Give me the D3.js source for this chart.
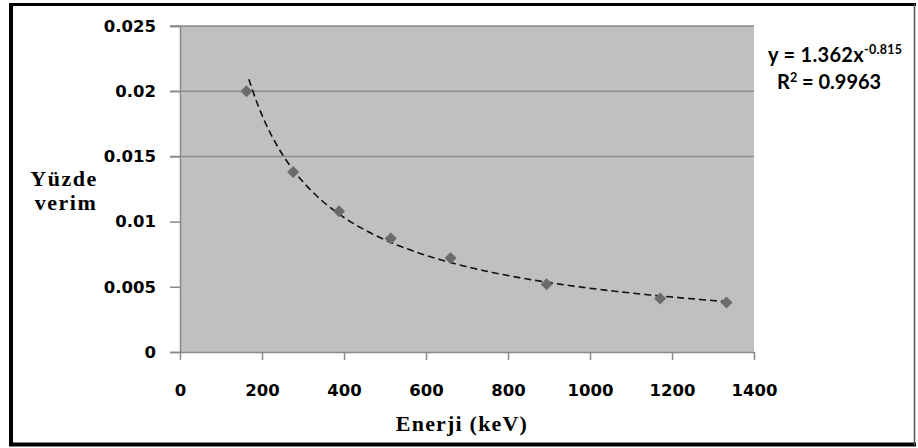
<!DOCTYPE html>
<html>
<head>
<meta charset="utf-8">
<script src="https://cdn.jsdelivr.net/npm/d3@7"></script>
<style>
  body { margin: 0; background: #fff; }
  svg { display: block; }
</style>
</head>
<body>
<script>
// values
var energy = [162, 276, 388, 514, 660, 894, 1171, 1333];
var efficiency = [0.0200, 0.0138, 0.0108, 0.0087, 0.0072, 0.0052, 0.0041, 0.0038];
var xTicks = [0, 200, 400, 600, 800, 1000, 1200, 1400];
var yTicks = [0, 0.005, 0.01, 0.015, 0.02, 0.025];
var gridTicks = [0.015, 0.02, 0.025];
// power trendline shown on the chart: y = 1.362 x^-0.815
var fitCoef = [1.362, -0.815];
var fitR2 = "0.9963";

var width = 918, height = 448;
var margin = {top: 26, right: 164, bottom: 96, left: 180};

var svg = d3.select("body").append("svg")
    .attr("width", width)
    .attr("height", height);

var x = d3.scaleLinear()
    .domain([0, 1400])
    .range([margin.left, width - margin.right]);

var y = d3.scaleLinear()
    .domain([0, 0.025])
    .range([height - margin.bottom, margin.top]);

// frame
svg.append("line").attr("x1", 11).attr("x2", 11).attr("y1", 3).attr("y2", 446)
    .attr("stroke", "#000").attr("stroke-width", 4);
svg.append("line").attr("x1", 9).attr("x2", 916).attr("y1", 4.5).attr("y2", 4.5)
    .attr("stroke", "#000").attr("stroke-width", 3);
svg.append("line").attr("x1", 9).attr("x2", 916).attr("y1", 444.5).attr("y2", 444.5)
    .attr("stroke", "#000").attr("stroke-width", 4);
svg.append("line").attr("x1", 914.5).attr("x2", 914.5).attr("y1", 4).attr("y2", 445)
    .attr("stroke", "#555").attr("stroke-width", 1.5);

// plot area
svg.append("rect")
    .attr("x", x(0))
    .attr("y", y(0.025))
    .attr("width", x(1400) - x(0))
    .attr("height", y(0) - y(0.025))
    .attr("fill", "#c0c0c0");

svg.selectAll(".grid")
    .data(gridTicks)
  .enter().append("line")
    .attr("class", "grid")
    .attr("x1", x(0) - 10)
    .attr("x2", x(1400))
    .attr("y1", function(d) { return y(d); })
    .attr("y2", function(d) { return y(d); })
    .attr("stroke", "#8a8a8a")
    .attr("stroke-width", 1.5);

// y axis
var yAxis = d3.axisLeft(y)
    .tickValues(yTicks)
    .tickSize(10)
    .tickPadding(14)
    .tickFormat(function(d) { return d === 0 ? "0" : String(+d.toFixed(3)); });

var gy = svg.append("g")
    .attr("transform", "translate(" + x(0) + ",0)")
    .call(yAxis);
gy.select(".domain").attr("stroke", "#8a8a8a").attr("stroke-width", 1.5);
gy.selectAll(".tick line").attr("stroke", "#8a8a8a").attr("stroke-width", 1.5);
gy.selectAll(".tick text")
    .attr("fill", "#000")
    .style("font-family", "'DejaVu Sans', sans-serif")
    .style("font-weight", "bold")
    .style("font-size", "16.5px");

// x axis
var xAxis = d3.axisBottom(x)
    .tickValues(xTicks)
    .tickSize(8)
    .tickPadding(24)
    .tickSizeOuter(0)
    .tickFormat(d3.format("d"));

var gx = svg.append("g")
    .attr("transform", "translate(0," + y(0) + ")")
    .call(xAxis);
gx.select(".domain").attr("stroke", "#8a8a8a").attr("stroke-width", 1.5);
gx.selectAll(".tick line").attr("stroke", "#8a8a8a").attr("stroke-width", 1.5);
gx.selectAll(".tick text")
    .attr("fill", "#000")
    .style("font-family", "'DejaVu Sans', sans-serif")
    .style("font-weight", "bold")
    .style("font-size", "16.5px");

// trendline
var fitX = d3.range(0, 101).map(function(i) {
  return energy[0] + 6 + (energy[energy.length - 1] - energy[0] - 6) * i / 100;
});
var line = d3.line()
    .curve(d3.curveBasis)
    .x(function(d) { return x(d); })
    .y(function(d) { return y(fitCoef[0] * Math.pow(d, fitCoef[1])); });

svg.append("path")
    .datum(fitX)
    .attr("d", line)
    .attr("fill", "none")
    .attr("stroke", "#111")
    .attr("stroke-width", 1.6)
    .attr("stroke-dasharray", "7,4");

// points
var points = energy.map(function(e, i) { return {e: e, v: efficiency[i]}; });
svg.selectAll(".pt")
    .data(points)
  .enter().append("path")
    .attr("class", "pt")
    .attr("d", d3.symbol().type(d3.symbolSquare).size(72))
    .attr("transform", function(d) {
      return "translate(" + x(d.e) + "," + y(d.v) + ") rotate(45)";
    })
    .attr("fill", "#6b6b6b");

// axis titles
var yTitle = svg.append("text")
    .attr("text-anchor", "middle")
    .style("font-family", "'Liberation Serif', serif")
    .style("font-weight", "bold")
    .style("font-size", "22px")
    .style("letter-spacing", "1.5px")
    .attr("fill", "#000");
yTitle.append("tspan").attr("x", 64).attr("y", 186).text("Yüzde");
yTitle.append("tspan").attr("x", 66).attr("y", 210).text("verim");

svg.append("text")
    .attr("x", 462)
    .attr("y", 431)
    .attr("text-anchor", "middle")
    .style("font-family", "'Liberation Serif', serif")
    .style("font-weight", "bold")
    .style("font-size", "22px")
    .style("letter-spacing", "1.2px")
    .attr("fill", "#000")
    .text("Enerji (keV)");

// equation label
var eq = svg.append("text")
    .attr("x", 768)
    .attr("y", 62)
    .style("font-family", "Lato, sans-serif")
    .style("font-weight", "bold")
    .style("font-size", "20px")
    .style("letter-spacing", "0.3px")
    .attr("fill", "#000");
eq.append("tspan").text("y = " + fitCoef[0] + "x");
eq.append("tspan").attr("dy", -8).style("font-size", "12.5px").text(String(fitCoef[1]));

var r2 = svg.append("text")
    .attr("x", 777)
    .attr("y", 89)
    .style("font-family", "Lato, sans-serif")
    .style("font-weight", "bold")
    .style("font-size", "20px")
    .attr("fill", "#000");
r2.append("tspan").text("R");
r2.append("tspan").attr("dy", -7).style("font-size", "12.5px").text("2");
r2.append("tspan").attr("dy", 7).text(" = " + fitR2);
</script>
</body>
</html>
